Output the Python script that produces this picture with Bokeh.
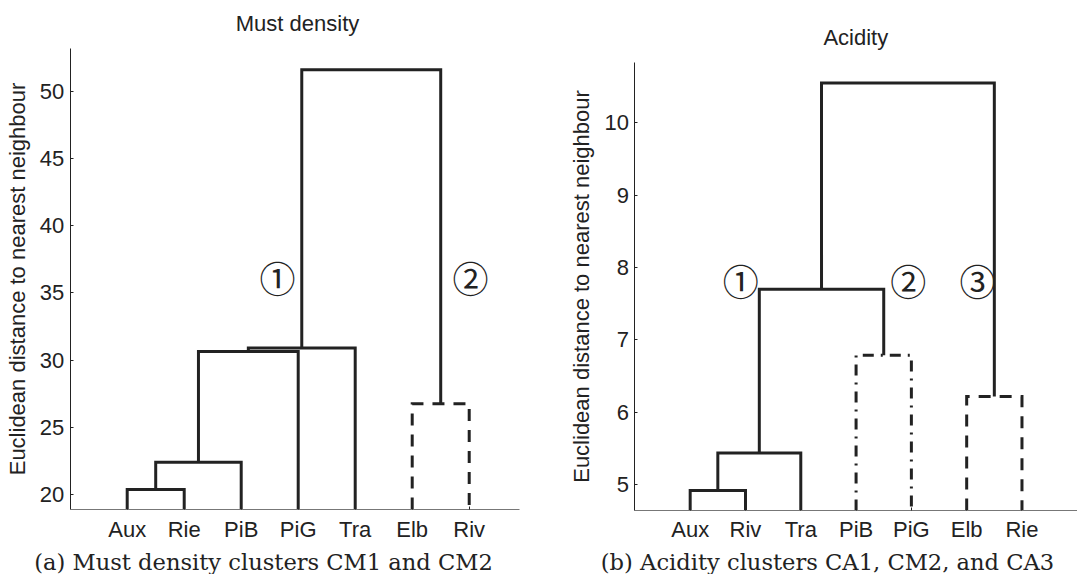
from bokeh.plotting import figure
from bokeh.layouts import row
from bokeh.models import Label, FixedTicker, Range1d
from bokeh.embed import file_html
from bokeh.resources import INLINE

# ---------------- data: panel (a) Must density ----------------
leaves_a = ["Aux", "Rie", "PiB", "PiG", "Tra", "Elb", "Riv"]
left_a = [0, 7, 8, 9, 5, 10]          # child node ids (leaves 0..6, merges 7..)
right_a = [1, 2, 3, 4, 6, 11]
height_a = [20.37, 22.40, 30.64, 30.90, 26.75, 51.60]
style_a = ["solid", "solid", "solid", "solid", "dashed", "solid"]
yticks_a = [20, 25, 30, 35, 40, 45, 50]
title_a = "Must density"
caption_a = "(a) Must density clusters CM1 and CM2"
marks_a = ["\u2460", "\u2461"]

# ---------------- data: panel (b) Acidity ----------------
leaves_b = ["Aux", "Riv", "Tra", "PiB", "PiG", "Elb", "Rie"]
left_b = [0, 7, 3, 8, 5, 10]
right_b = [1, 2, 4, 9, 6, 11]
height_b = [4.92, 5.44, 6.79, 7.70, 6.22, 10.55]
style_b = ["solid", "solid", "dashdot", "solid", "dashed", "solid"]
yticks_b = [5, 6, 7, 8, 9, 10]
title_b = "Acidity"
caption_b = "(b) Acidity clusters CA1, CM2, and CA3"
marks_b = ["\u2460", "\u2461", "\u2462"]

ylabel = "Euclidean distance to nearest neighbour"

DASHES = {"solid": "solid", "dashed": "12 9", "dashdot": "11 7 2 7"}
INK = "#222222"
SANS = "Liberation Sans"


def dendro_paths(leaves, lefts, rights, heights, styles, base):
    n = len(leaves)
    xpos = [float(i + 1) for i in range(n)]
    hpos = [base] * n
    groups = {}
    for l, r, h, s in zip(lefts, rights, heights, styles):
        xl, xr = xpos[l], xpos[r]
        groups.setdefault(s, ([], []))
        groups[s][0].append([xl, xl, xr, xr])
        groups[s][1].append([hpos[l], h, h, hpos[r]])
        xpos.append((xl + xr) / 2.0)
        hpos.append(h)
    return groups


def make_panel(leaves, lefts, rights, heights, styles, yticks, geo,
               title, caption, marks, title_px, caption_px, marks_px):
    x0, x1 = geo["xr"]
    y0, y1 = geo["yr"]
    floor, top_bound = geo["axis"]
    p = figure(frame_width=geo["fw"], frame_height=geo["fh"],
               x_range=Range1d(x0, x1), y_range=Range1d(y0, y1),
               min_border=0,
               output_backend="svg", toolbar_location=None,
               background_fill_color="white", border_fill_color="white")
    p.outline_line_color = None
    p.xgrid.visible = False
    p.ygrid.visible = False

    groups = dendro_paths(leaves, lefts, rights, heights, styles, floor)
    for s, (xs, ys) in groups.items():
        p.multi_line(xs, ys, line_color=INK, line_width=3,
                     line_dash=DASHES[s], line_join="miter", line_cap="butt")

    # axes (Matlab style: ticks pointing inward, no box)
    xa = p.xaxis[0]
    xa.fixed_location = floor
    xa.bounds = (0, geo["xend"])
    xa.ticker = FixedTicker(ticks=list(range(1, len(leaves) + 1)))
    xa.major_label_overrides = {i + 1: name for i, name in enumerate(leaves)}
    xa.minor_tick_line_color = None
    xa.major_tick_in = 3
    xa.major_tick_out = 0
    xa.major_tick_line_color = INK
    xa.axis_line_color = "#777777"
    xa.major_label_standoff = 7
    xa.major_label_text_font = SANS
    xa.major_label_text_font_size = "22px"
    xa.major_label_text_color = INK

    ya = p.yaxis[0]
    ya.fixed_location = 0
    ya.bounds = (floor, top_bound)
    ya.ticker = FixedTicker(ticks=yticks)
    ya.minor_tick_line_color = None
    ya.major_tick_in = 3
    ya.major_tick_out = 0
    ya.major_tick_line_color = INK
    ya.axis_line_color = INK
    ya.major_label_standoff = 6
    ya.major_label_text_font = SANS
    ya.major_label_text_font_size = "22px"
    ya.major_label_text_color = INK
    ya.axis_label = ylabel
    ya.axis_label_standoff = 7
    ya.axis_label_text_font = SANS
    ya.axis_label_text_font_size = "22px"
    ya.axis_label_text_font_style = "normal"
    ya.axis_label_text_color = INK

    # convert page pixel positions to data coordinates of this panel
    sx = geo["fw"] / (x1 - x0)
    sy = geo["fh"] / (y1 - y0)

    def dx(px):
        return x0 + (px - geo["left"]) / sx

    def dy(py):
        return y1 - (py - geo["top"]) / sy

    p.add_layout(Label(x=dx(title_px[0]), y=dy(title_px[1]), text=title,
                       text_align="center", text_baseline="middle",
                       text_font=SANS, text_font_size="22px", text_color=INK))
    p.add_layout(Label(x=dx(caption_px[0]), y=dy(caption_px[1]), text=caption,
                       text_align="center", text_baseline="middle",
                       text_font="DejaVu Serif", text_font_size="22.6px",
                       text_color=INK))
    for m, (mx, my) in zip(marks, marks_px):
        p.add_layout(Label(x=dx(mx), y=dy(my), text=m,
                           text_align="center", text_baseline="middle",
                           text_font="Noto Sans CJK JP", text_font_size="36px",
                           text_color=INK))
    return p


# frames cover each whole panel; axes are pinned at data locations
geo_a = dict(xr=(-1.2228, 8.198), yr=(14.049, 56.747), axis=(18.884, 53.18),
             xend=7.88, fw=537, fh=574, left=0, top=0)
geo_b = dict(xr=(-1.761, 8.004), yr=(3.761, 11.689), axis=(4.645, 10.829),
             xend=8.0, fw=540, fh=574, left=537, top=0)

pa = make_panel(leaves_a, left_a, right_a, height_a, style_a, yticks_a, geo_a,
                title_a, caption_a, marks_a,
                (297, 23), (263, 561), [(277, 276), (470, 276)])
pb = make_panel(leaves_b, left_b, right_b, height_b, style_b, yticks_b, geo_b,
                title_b, caption_b, marks_b,
                (855.3, 37.4), (827, 561),
                [(740.3, 279.3), (907.7, 279), (977, 279)])

layout = row(pa, pb)
open("out.html", "w").write(file_html(layout, INLINE))
